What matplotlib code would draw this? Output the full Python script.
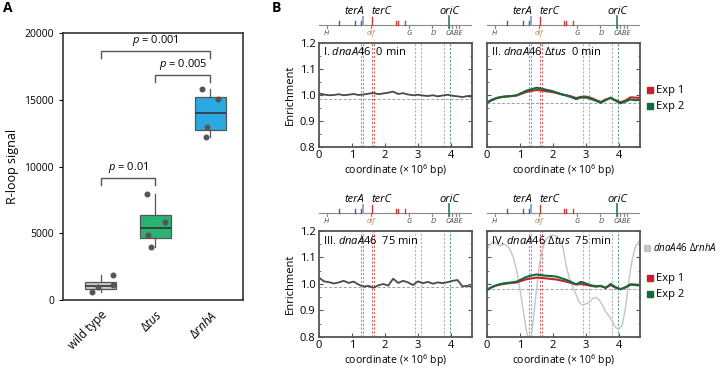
import numpy as np
import matplotlib
matplotlib.use("Agg")
import matplotlib.pyplot as plt
from matplotlib.patches import Rectangle

plt.rcParams['font.family'] = ['Open Sans', 'DejaVu Sans']
plt.rcParams['mathtext.fontset'] = 'custom'
plt.rcParams['mathtext.rm'] = 'Open Sans'
plt.rcParams['mathtext.it'] = 'Open Sans:italic'
plt.rcParams['mathtext.bf'] = 'Open Sans:bold'

# ---------------- panel A data ----------------
strains = ['wild type', r'$\Delta\mathit{tus}$', r'$\Delta\mathit{rnhA}$']
wt_signal = [575, 950, 1125, 1875]
tus_signal = [4000, 4900, 5825, 7975]
rnha_signal = [12175, 12950, 15050, 15800]
wt_jitter = [-0.16, -0.05, 0.22, 0.22]
tus_jitter = [-0.08, -0.14, 0.17, -0.16]
rnha_jitter = [-0.07, -0.05, 0.15, -0.15]
box_colors = ['#c9c9c9', '#2bb371', '#2ba8e2']
pvals = ['0.01', '0.005', '0.001']
pairs = [(0, 1), (1, 2), (0, 2)]
bracket_top = [9150, 16850, 18650]

# ---------------- panel B data ----------------
genome_len = 4.64
x_grid = [0, 0.15, 0.3, 0.45, 0.6, 0.75, 0.9, 1.05, 1.2, 1.35, 1.5, 1.65, 1.8, 1.95,
          2.1, 2.25, 2.4, 2.55, 2.7, 2.85, 3.0, 3.15, 3.3, 3.45, 3.6, 3.75, 3.9, 4.05,
          4.2, 4.35, 4.5, 4.64]
dna_0 = [1.006, 1.002, 0.999, 1.000, 1.003, 0.999, 1.001, 1.004, 1.000, 1.002, 1.005,
         1.008, 1.003, 1.006, 1.009, 1.013, 1.004, 1.007, 1.002, 0.999, 1.001, 0.998,
         0.996, 0.999, 0.995, 0.998, 1.001, 0.997, 0.995, 0.992, 0.996, 0.993]
dna_75 = [1.024, 1.010, 1.007, 1.002, 1.006, 1.012, 1.004, 1.009, 0.998, 0.990, 0.993,
          0.986, 0.995, 1.000, 0.994, 1.020, 1.004, 1.012, 1.006, 0.996, 1.010, 1.003,
          1.008, 1.001, 1.006, 1.003, 1.007, 1.012, 1.015, 0.991, 0.993, 0.990]
tus_0_exp1 = [0.972, 0.982, 0.989, 0.992, 0.994, 0.996, 0.998, 1.005, 1.012, 1.016, 1.019,
              1.018, 1.014, 1.012, 1.008, 1.003, 0.999, 0.995, 0.988, 0.993, 0.994, 0.989,
              0.981, 0.973, 0.983, 0.988, 0.980, 0.972, 0.979, 0.991, 0.990, 0.989]
tus_0_exp2 = [0.970, 0.980, 0.988, 0.993, 0.995, 0.996, 0.999, 1.008, 1.017, 1.022, 1.028,
              1.025, 1.020, 1.016, 1.010, 1.003, 0.998, 0.992, 0.984, 0.990, 0.990, 0.985,
              0.978, 0.970, 0.980, 0.990, 0.978, 0.968, 0.975, 0.983, 0.980, 0.981]
tus_75_exp1 = [0.979, 0.989, 0.995, 0.999, 1.002, 1.004, 1.006, 1.012, 1.018, 1.021, 1.024,
               1.023, 1.021, 1.019, 1.017, 1.013, 1.009, 1.004, 0.998, 1.000, 0.997, 0.993,
               0.990, 0.992, 0.986, 0.996, 0.986, 0.981, 0.987, 0.997, 0.998, 0.996]
tus_75_exp2 = [0.977, 0.988, 0.996, 1.001, 1.004, 1.006, 1.009, 1.018, 1.027, 1.032, 1.036,
               1.033, 1.031, 1.030, 1.028, 1.022, 1.016, 1.008, 0.999, 1.008, 1.002, 0.995,
               0.992, 0.993, 0.985, 1.000, 0.988, 0.980, 0.988, 0.999, 0.996, 0.994]
x_rnha = [0.0, 0.1, 0.2, 0.3, 0.4, 0.5, 0.6, 0.7, 0.8, 0.9, 1.0, 1.1, 1.2, 1.3, 1.4, 1.5,
          1.6, 1.7, 1.8, 1.9, 2.0, 2.1, 2.2, 2.3, 2.4, 2.5, 2.6, 2.7, 2.8, 2.9, 3.0, 3.1,
          3.2, 3.3, 3.4, 3.5, 3.6, 3.7, 3.8, 3.9, 4.0, 4.1, 4.2, 4.3, 4.4, 4.5, 4.6, 4.64]
rnha_75 = [1.13, 1.15, 1.16, 1.15, 1.145, 1.15, 1.145, 1.13, 1.10, 1.05, 0.98, 0.90, 0.82,
           0.77, 0.86, 0.98, 1.08, 1.14, 1.17, 1.18, 1.185, 1.18, 1.17, 1.14, 1.07, 1.02,
           0.99, 0.96, 0.93, 0.92, 0.925, 0.93, 0.945, 0.95, 0.94, 0.92, 0.895, 0.88, 0.86,
           0.835, 0.83, 0.845, 0.91, 1.01, 1.09, 1.14, 1.16, 1.16]
baselines = [0.985, 0.970, 0.990, 0.980]
titles = [r'I. $\mathit{dnaA46}$  0 min', r'II. $\mathit{dnaA46\ \Delta tus}$  0 min',
          r'III. $\mathit{dnaA46}$  75 min', r'IV. $\mathit{dnaA46\ \Delta tus}$  75 min']

# genome map features (Mb)
ter_blue = [0.62, 1.09, 1.27]
ter_a = 1.34
ter_c = 1.62
ter_red = [2.33, 2.39, 2.60]
dif_pos = 1.59
ori_c = 3.95
rrn_pos = [0.23, 2.73, 3.43, 3.95, 4.03, 4.15, 4.25]
rrn_labels = [('H', 0.23), ('G', 2.73), ('D', 3.45), ('CABE', 4.1)]
vlines = [(1.27, '#8d9fcc'), (1.34, '#8d9fcc'), (1.60, '#d46a6a'), (1.68, '#d46a6a'),
          (2.92, '#b5b5b5'), (3.08, '#b5b5b5'), (3.79, '#b5b5b5'), (3.96, '#5c9c84')]

W, H = 720, 370
fig = plt.figure(figsize=(7.2, 3.7), dpi=100)


def px_axes(x0, y0, x1, y1):
    return fig.add_axes([x0 / W, 1 - y1 / H, (x1 - x0) / W, (y1 - y0) / H])


# ================= panel A =================
ax = px_axes(63, 33, 243, 300)
groups = [wt_signal, tus_signal, rnha_signal]
jitters = [wt_jitter, tus_jitter, rnha_jitter]
bp = ax.boxplot(groups, positions=[0, 1, 2], widths=0.57, patch_artist=True,
                showcaps=False, showfliers=False, whis=(0, 100),
                medianprops=dict(color='#333333', lw=1.2),
                whiskerprops=dict(color='#555555', lw=0.9),
                boxprops=dict(edgecolor='#555555', lw=0.9))
for patch, c in zip(bp['boxes'], box_colors):
    patch.set_facecolor(c)
for i, (vals, jit) in enumerate(zip(groups, jitters)):
    ax.plot(i + np.array(jit), vals, 'o', color='#555555', ms=3.3, zorder=4)

for (a, b), top, p in zip(pairs, bracket_top, pvals):
    ax.plot([a, a, b, b], [top - 550, top, top, top - 550], color='#555555', lw=1.0)
    ax.text((a + b) / 2, top + 250, r'$p$ = ' + p, ha='center', va='bottom', fontsize=8)

ax.set_xlim(-0.69, 2.6)
ax.set_ylim(0, 20000)
ax.set_yticks([0, 5000, 10000, 15000, 20000])
ax.set_xticks([0, 1, 2])
ax.set_xticklabels(strains, rotation=45, ha='right', rotation_mode='anchor', fontsize=8.5)
ax.tick_params(axis='y', labelsize=7.5, length=3)
ax.tick_params(axis='x', length=0, pad=6)
ax.set_ylabel('R-loop signal', fontsize=9)
for s in ax.spines.values():
    s.set_linewidth(1.2)
    s.set_color('#333333')

fig.text(3 / W, 1 - 8 / H, 'A', fontsize=10, fontweight='bold', va='center')
fig.text(272 / W, 1 - 8 / H, 'B', fontsize=10, fontweight='bold', va='center')


# ================= panel B =================
def genome_track(x0, x1, top):
    tr = px_axes(x0, top - 42, x1, top - 2)
    tr.set_xlim(0, genome_len)
    tr.set_ylim(2, 42)
    tr.axis('off')
    tr.plot([0, genome_len], [18, 18], color='#8a8a8a', lw=0.8)
    for p in rrn_pos:
        tr.plot([p, p], [18, 14.7], color='#8a8a8a', lw=0.9)
    tr.plot([dif_pos, dif_pos], [18, 14.7], color='#b5864a', lw=0.9)
    for p in ter_blue:
        tr.plot([p, p], [18, 22], color='#4a5a96', lw=1.0)
    tr.plot([ter_a, ter_a], [18, 26], color='#8fa6cf', lw=1.4)
    tr.plot([ter_c, ter_c], [18, 26], color='#c8383f', lw=1.0)
    for p in ter_red:
        tr.plot([p, p], [18, 22], color='#c8383f', lw=1.0)
    tr.plot([ori_c, ori_c], [15, 27], color='#2e7d5b', lw=1.2)
    tr.text(ter_a + 0.02, 32, 'terA', style='italic', fontsize=8, ha='right', va='center')
    tr.text(ter_c - 0.02, 32, 'terC', style='italic', fontsize=8, ha='left', va='center')
    tr.text(ori_c, 32, 'oriC', style='italic', fontsize=8, ha='center', va='center')
    for lab, p in rrn_labels:
        tr.text(p, 9.5, lab, style='italic', fontsize=5.5, ha='center', va='center',
                color='#444444')
    tr.text(dif_pos, 9.5, 'dif', style='italic', fontsize=5.5, ha='center', va='center',
            color='#b5864a')


def enrich_panel(x0, x1, top, bottom, title, baseline, left):
    a = px_axes(x0, top, x1, bottom)
    genome_track(x0, x1, top)
    a.set_xlim(0, genome_len)
    a.set_ylim(0.8, 1.2)
    a.axhline(baseline, color='#a0a0a0', lw=0.7, ls=(0, (3, 2)), zorder=1)
    for p, c in vlines:
        a.axvline(p, color=c, lw=0.8, ls=(0, (2, 1.5)), zorder=1)
    a.set_xticks([0, 1, 2, 3, 4])
    a.set_yticks([0.8, 0.9, 1.0, 1.1, 1.2])
    a.set_yticks(np.arange(0.8, 1.2, 0.05), minor=True)
    a.tick_params(axis='both', direction='in', length=3, labelsize=8, right=True,
                  colors='#555555', labelcolor='black', pad=2.5)
    a.tick_params(axis='y', which='minor', direction='in', length=1.5, right=True,
                  colors='#555555')
    a.set_xlabel(r'coordinate (× 10$^6$ bp)', fontsize=7.5, labelpad=0.5)
    if left:
        a.set_ylabel('Enrichment', fontsize=8, labelpad=3)
    else:
        a.set_yticklabels([])
    for s in a.spines.values():
        s.set_linewidth(1.3)
        s.set_color('#555555')
    a.text(0.025, 0.91, title, transform=a.transAxes, fontsize=8, va='center', zorder=5)
    return a


axI = enrich_panel(319, 472, 43, 147, titles[0], baselines[0], True)
axI.plot(x_grid, dna_0, color='#4a4a4a', lw=1.3)

axII = enrich_panel(487, 640, 43, 147, titles[1], baselines[1], False)
axII.plot(x_grid, tus_0_exp1, color='#c8202e', lw=1.5)
axII.plot(x_grid, tus_0_exp2, color='#106b3d', lw=1.5)

axIII = enrich_panel(319, 472, 231, 337, titles[2], baselines[2], True)
axIII.plot(x_grid, dna_75, color='#4a4a4a', lw=1.3)

axIV = enrich_panel(487, 640, 231, 337, titles[3], baselines[3], False)
axIV.plot(x_rnha, rnha_75, color='#c4c4c4', lw=1.0, zorder=2)
axIV.plot(x_grid, tus_75_exp1, color='#c8202e', lw=1.5, zorder=3)
axIV.plot(x_grid, tus_75_exp2, color='#106b3d', lw=1.5, zorder=3)


def legend_item(x, y, color, label, size=8):
    fig.patches.append(Rectangle(((x - 3) / W, 1 - (y + 3) / H), 6 / W, 6 / H,
                                 transform=fig.transFigure, color=color))
    fig.text((x + 6) / W, 1 - y / H, label, fontsize=size, va='center')


legend_item(650, 90, '#c8202e', 'Exp 1')
legend_item(650, 106, '#106b3d', 'Exp 2')
legend_item(647, 248, '#c4c4c4', r'$\mathit{dnaA46\ \Delta rnhA}$', size=7)
legend_item(650, 278, '#c8202e', 'Exp 1')
legend_item(650, 294, '#106b3d', 'Exp 2')

fig.savefig('out.png', dpi=100)
